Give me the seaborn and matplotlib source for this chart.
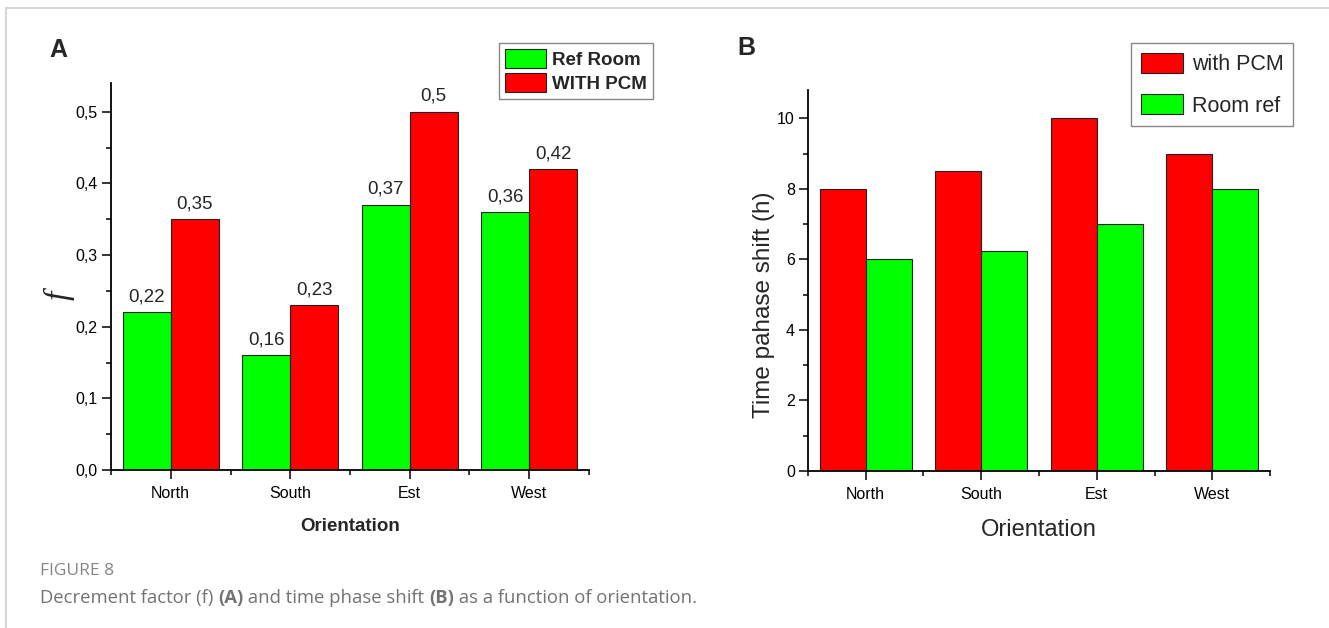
import matplotlib
matplotlib.use('Agg')
import matplotlib.pyplot as plt
import seaborn as sns
import pandas as pd
from matplotlib.ticker import FuncFormatter, MultipleLocator, FixedLocator
from matplotlib.lines import Line2D

# ── Data ──────────────────────────────────────────────────────────────────────
orientations = ['North', 'South', 'Est', 'West']

# panel A: decrement factor f
ref_room_f = [0.22, 0.16, 0.37, 0.36]
with_pcm_f = [0.35, 0.23, 0.50, 0.42]

# panel B: time phase shift (h)
with_pcm_shift = [8, 8.5, 10, 9]
room_ref_shift = [6, 6.25, 7, 8]

GREEN = '#00ff00'
RED = '#ff0000'

df_a = pd.DataFrame({
    'Orientation': orientations * 2,
    'f': ref_room_f + with_pcm_f,
    'Case': ['Ref Room'] * 4 + ['WITH PCM'] * 4,
})
df_b = pd.DataFrame({
    'Orientation': orientations * 2,
    'shift': with_pcm_shift + room_ref_shift,
    'Case': ['with PCM'] * 4 + ['Room ref'] * 4,
})

# ── Setup ─────────────────────────────────────────────────────────────────────
sns.set_theme(style='ticks')
plt.rcParams['font.family'] = ['Liberation Sans', 'DejaVu Sans']
plt.rcParams['axes.edgecolor'] = 'black'
plt.rcParams['xtick.color'] = 'black'
plt.rcParams['ytick.color'] = 'black'

W, H = 1329, 628
fig = plt.figure(figsize=(W / 100, H / 100), dpi=100)
fig.patch.set_facecolor('white')

ax_a = fig.add_axes([111 / W, 1 - 470 / H, (589 - 111) / W, (470 - 83) / H])
ax_b = fig.add_axes([808 / W, 1 - 471 / H, (1270 - 808) / W, (471 - 90) / H])


def comma(v, decimals):
    return f'{v:.{decimals}f}'.replace('.', ',')


def style_axis(ax, ymax, ymajor, yminor, tick_size):
    ax.set_xlim(-0.5, 3.5)
    ax.set_ylim(0, ymax)
    ax.yaxis.set_major_locator(MultipleLocator(ymajor))
    ax.yaxis.set_minor_locator(MultipleLocator(yminor))
    ax.xaxis.set_minor_locator(FixedLocator([-0.5, 0.5, 1.5, 2.5, 3.5]))
    ax.tick_params(which='major', direction='out', length=6.5, width=1.1,
                   labelsize=tick_size, pad=3)
    ax.tick_params(axis='x', which='major', pad=5)
    ax.tick_params(which='minor', direction='out', length=3.5, width=1.1)
    sns.despine(ax=ax)
    for s in ['left', 'bottom']:
        ax.spines[s].set_linewidth(1.3)
    ax.set_facecolor('white')


# ── Panel A ───────────────────────────────────────────────────────────────────
sns.barplot(data=df_a, x='Orientation', y='f', hue='Case', order=orientations,
            hue_order=['Ref Room', 'WITH PCM'],
            palette={'Ref Room': GREEN, 'WITH PCM': RED},
            saturation=1, width=0.8, errorbar=None, legend=False,
            edgecolor='#222222', linewidth=0.8, ax=ax_a)
style_axis(ax_a, 0.54, 0.1, 0.05, 11.5)
ax_a.yaxis.set_major_formatter(FuncFormatter(lambda v, p: comma(v, 1)))

for cont, vals in zip(ax_a.containers, [ref_room_f, with_pcm_f]):
    ax_a.bar_label(cont, labels=[comma(v, 2).rstrip('0') for v in vals],
                   padding=5, fontsize=13.5)

ax_a.set_xlabel('Orientation', fontsize=13.5, fontweight='bold', labelpad=12)
ax_a.set_ylabel('f', fontsize=24, family=['Liberation Serif', 'DejaVu Serif'],
                style='italic')
ax_a.yaxis.set_label_coords(-0.077, 0.452)
ax_a.legend(ax_a.containers, ['Ref Room', 'WITH PCM'],
            loc='upper right', bbox_to_anchor=(653 / W, 1 - 43 / H),
            bbox_transform=fig.transFigure,
            prop={'weight': 'bold', 'size': 13.5},
            fancybox=False, framealpha=1, edgecolor='#888888',
            handlelength=2.2, handleheight=1.2, labelspacing=0.25,
            handletextpad=0.35, borderpad=0.3, borderaxespad=0)
ax_a.get_legend().get_frame().set_linewidth(1.0)

# ── Panel B ───────────────────────────────────────────────────────────────────
sns.barplot(data=df_b, x='Orientation', y='shift', hue='Case', order=orientations,
            hue_order=['with PCM', 'Room ref'],
            palette={'with PCM': RED, 'Room ref': GREEN},
            saturation=1, width=0.8, errorbar=None, legend=False,
            edgecolor='#222222', linewidth=0.8, ax=ax_b)
style_axis(ax_b, 10.8, 2, 1, 11.5)
ax_b.yaxis.set_major_formatter(FuncFormatter(lambda v, p: f'{v:.0f}'))

ax_b.set_xlabel('Orientation', fontsize=17, labelpad=12)
ax_b.set_ylabel('Time pahase shift (h)', fontsize=17.5)
ax_b.yaxis.set_label_coords(-0.071, 0.436)
ax_b.legend(ax_b.containers, ['with PCM', 'Room ref'],
            loc='upper right', bbox_to_anchor=(1293 / W, 1 - 43 / H),
            bbox_transform=fig.transFigure,
            prop={'size': 15.5},
            fancybox=False, framealpha=1, edgecolor='#888888',
            handlelength=1.95, handleheight=1.05, labelspacing=0.9,
            handletextpad=0.4, borderpad=0.45, borderaxespad=0)
ax_b.get_legend().get_frame().set_linewidth(1.0)

# ── Panel letters ─────────────────────────────────────────────────────────────
fig.text(49 / W, 1 - 50 / H, 'A', fontsize=18, fontweight='bold', va='center')
fig.text(737 / W, 1 - 48 / H, 'B', fontsize=18, fontweight='bold', va='center')

# ── Page border (top and left) ────────────────────────────────────────────────
border = '#d6d6d6'
fig.add_artist(Line2D([6 / W, 1], [1 - 8 / H, 1 - 8 / H], color=border, lw=1.5,
                      transform=fig.transFigure))
fig.add_artist(Line2D([6 / W, 6 / W], [0, 1 - 8 / H], color=border, lw=1.5,
                      transform=fig.transFigure))

# ── Caption ───────────────────────────────────────────────────────────────────
cap_font = ['Open Sans', 'DejaVu Sans']
fig.text(40 / W, 1 - 571 / H, 'FIGURE 8', fontsize=12.5, color='#858585',
         family=cap_font, va='center')

caption_parts = [
    ('Decrement factor (f) ', 'normal'),
    ('(A)', 'bold'),
    (' and time phase shift ', 'normal'),
    ('(B)', 'bold'),
    (' as a function of orientation.', 'normal'),
]
renderer = fig.canvas.get_renderer()
x = 40 / W
for txt, wt in caption_parts:
    t = fig.text(x, 1 - 598 / H, txt, fontsize=13.3, color='#737373',
                 family=cap_font, fontweight=wt, va='center')
    bb = t.get_window_extent(renderer=renderer)
    x += bb.width / W

fig.savefig('out.png', dpi=100, facecolor='white')
